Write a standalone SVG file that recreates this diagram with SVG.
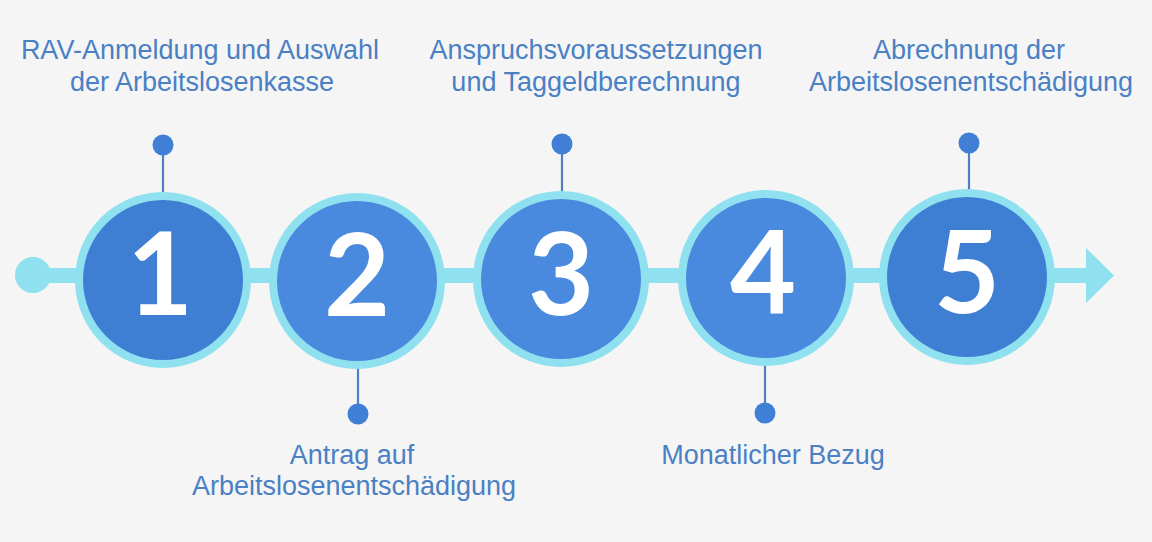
<svg xmlns="http://www.w3.org/2000/svg" width="1152" height="542" viewBox="0 0 1152 542">
<style>
.bg{fill:#f5f5f5}
.ring{fill:#8fe1ef}
.inA{fill:#3e7fd3}
.inB{fill:#4a8ade}
.num{font-family:Lato,"Open Sans","DejaVu Sans",sans-serif;font-weight:700;font-size:114px;fill:#ffffff;text-anchor:middle}
.lbl{font-family:"Liberation Sans",Arial,sans-serif;font-size:27px;fill:#4a80c4;text-anchor:middle}
.stem{stroke:#4f80c4;stroke-width:2.2}
.dot{fill:#3f80d6}
.track{stroke:#8fe1ef;stroke-width:15}
</style>
<rect class="bg" x="0" y="0" width="1152" height="542"/>
<g id="connectors">
<line class="track" x1="33" y1="275.5" x2="1090" y2="275.5"/>
<circle cx="33" cy="275" r="18" fill="#8fe1ef"/>
<polygon points="1086,248 1114,275.5 1086,303" fill="#8fe1ef"/>
<line class="stem" x1="163" y1="145" x2="163" y2="200"/>
<line class="stem" x1="358" y1="358" x2="358" y2="414"/>
<line class="stem" x1="562" y1="144" x2="562" y2="200"/>
<line class="stem" x1="765" y1="358" x2="765" y2="413"/>
<line class="stem" x1="969" y1="143" x2="969" y2="198"/>
<circle class="dot" cx="163" cy="145" r="10.5"/>
<circle class="dot" cx="358" cy="414" r="10.5"/>
<circle class="dot" cx="562" cy="144" r="10.5"/>
<circle class="dot" cx="765" cy="413" r="10.5"/>
<circle class="dot" cx="969" cy="143" r="10.5"/>
</g>
<g id="step1">
<circle class="ring" cx="163" cy="280" r="88"/>
<circle class="inA" cx="163" cy="280" r="80"/>
<text class="num" x="160" y="315">1</text>
<text class="lbl" x="200" y="59">RAV-Anmeldung und Auswahl</text>
<text class="lbl" x="202" y="91">der Arbeitslosenkasse</text>
</g>
<g id="step2">
<circle class="ring" cx="357" cy="281" r="88"/>
<circle class="inB" cx="357" cy="281" r="80"/>
<text class="num" x="357" y="316">2</text>
<text class="lbl" x="352" y="464">Antrag auf</text>
<text class="lbl" x="354" y="495">Arbeitslosenentschädigung</text>
</g>
<g id="step3">
<circle class="ring" cx="561" cy="279" r="88"/>
<circle class="inB" cx="561" cy="279" r="80"/>
<text class="num" x="561" y="315">3</text>
<text class="lbl" x="596" y="59">Anspruchsvoraussetzungen</text>
<text class="lbl" x="596" y="91">und Taggeldberechnung</text>
</g>
<g id="step4">
<circle class="ring" cx="766" cy="278" r="88"/>
<circle class="inB" cx="766" cy="278" r="80"/>
<text class="num" x="763" y="313">4</text>
<text class="lbl" x="773" y="464">Monatlicher Bezug</text>
</g>
<g id="step5">
<circle class="ring" cx="967" cy="277" r="88"/>
<circle class="inA" cx="967" cy="277" r="80"/>
<text class="num" x="967" y="313">5</text>
<text class="lbl" x="969" y="59">Abrechnung der</text>
<text class="lbl" x="971" y="91">Arbeitslosenentschädigung</text>
</g>
</svg>
